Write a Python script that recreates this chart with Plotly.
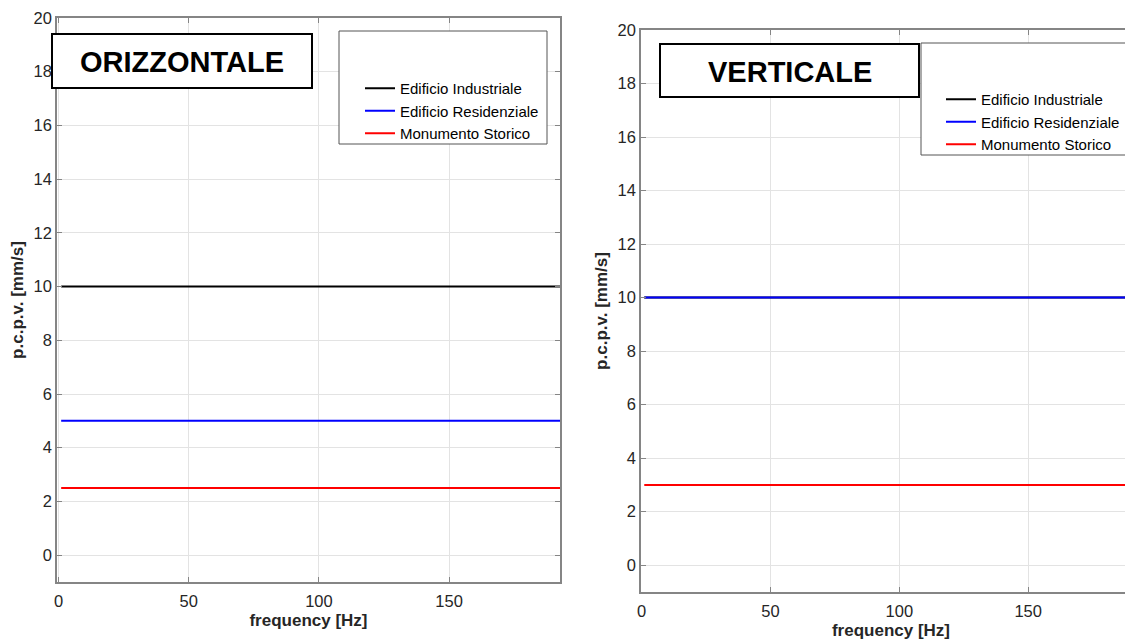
import plotly.graph_objects as go

W, H = 1133, 639
OFF = 8  # default page body margin

freq = [1, 200]
series_names = ["Edificio Industriale", "Edificio Residenziale", "Monumento Storico"]
series_colors = ["#000000", "#0000ff", "#ff0000"]
orizzontale_vals = [10, 5, 2.5]
verticale_vals = [10, 10, 3]
x_ticks = [0, 50, 100, 150]
y_ticks = [0, 2, 4, 6, 8, 10, 12, 14, 16, 18, 20]

def px(x):
    return (x - OFF) / W

def py(y):
    return 1 - (y - OFF) / H

fig = go.Figure()

for name, color, v in zip(series_names, series_colors, orizzontale_vals):
    fig.add_trace(go.Scatter(x=freq, y=[v, v], mode="lines", name=name,
                             line=dict(color=color, width=2),
                             xaxis="x", yaxis="y", legend="legend"))
for name, color, v in zip(series_names, series_colors, verticale_vals):
    fig.add_trace(go.Scatter(x=freq, y=[v, v], mode="lines", name=name,
                             line=dict(color=color, width=2),
                             xaxis="x2", yaxis="y2", legend="legend2"))

axis_common = dict(
    showgrid=True, gridcolor="#e3e3e3", gridwidth=1,
    showline=True, linecolor="#858585", linewidth=1.5, mirror="ticks",
    ticks="inside", ticklen=5, tickcolor="#858585",
    tickfont=dict(family="Arial", size=16.5, color="#262626"),
    zeroline=False, automargin=False,
)
title_font = dict(family="Arial", size=17, color="#262626")

fig.update_layout(
    width=W, height=H,
    margin=dict(l=0, r=0, t=0, b=0),
    paper_bgcolor="white", plot_bgcolor="white",
    xaxis=dict(domain=[px(57), px(560)], range=[-0.6, 192.6], tickvals=x_ticks,
               anchor="y", ticklabelstandoff=3,
               title=dict(text="<b>frequency [Hz]</b>", font=title_font, standoff=6),
               **axis_common),
    yaxis=dict(domain=[py(582), py(18)], range=[-1, 20], tickvals=y_ticks,
               anchor="x",
               title=dict(text="<b>p.c.p.v. [mm/s]</b>", font=title_font, standoff=6),
               **axis_common),
    xaxis2=dict(domain=[px(641), 1.0], range=[-0.27, 193.8], tickvals=x_ticks,
                anchor="y2", ticklabelstandoff=3,
                title=dict(text="<b>frequency [Hz]</b>", font=title_font, standoff=6),
                **axis_common),
    yaxis2=dict(domain=[py(592), py(30)], range=[-1, 20], tickvals=y_ticks,
                anchor="x2",
                title=dict(text="<b>p.c.p.v. [mm/s]</b>", font=title_font, standoff=6),
                **axis_common),
    legend=dict(x=px(360), y=py(72), xanchor="left", yanchor="top",
                bgcolor="rgba(0,0,0,0)", borderwidth=0,
                font=dict(family="Arial", size=15, color="#000000"),
                tracegroupgap=0, itemclick=False),
    legend2=dict(x=px(941), y=py(83), xanchor="left", yanchor="top",
                 bgcolor="rgba(0,0,0,0)", borderwidth=0,
                 font=dict(family="Arial", size=15, color="#000000"),
                 tracegroupgap=0, itemclick=False),
    showlegend=True,
)

# legend boxes
fig.add_shape(type="rect", xref="paper", yref="paper",
              x0=px(339), x1=px(547), y0=py(144), y1=py(31),
              line=dict(color="#555555", width=1), fillcolor="white", layer="above")
fig.add_shape(type="rect", xref="paper", yref="paper",
              x0=px(921), x1=px(1128), y0=py(155), y1=py(43),
              line=dict(color="#555555", width=1), fillcolor="white", layer="above")

# title boxes
fig.add_shape(type="rect", xref="paper", yref="paper",
              x0=px(52), x1=px(312), y0=py(88), y1=py(34),
              line=dict(color="black", width=2), fillcolor="white", layer="above")
fig.add_shape(type="rect", xref="paper", yref="paper",
              x0=px(660), x1=px(919), y0=py(97), y1=py(44),
              line=dict(color="black", width=2), fillcolor="white", layer="above")

fig.add_annotation(text="<b>ORIZZONTALE</b>", xref="paper", yref="paper",
                   x=px(182), y=py(62), xanchor="center", yanchor="middle",
                   showarrow=False, font=dict(family="Arial", size=29, color="black"))
fig.add_annotation(text="<b>VERTICALE</b>", xref="paper", yref="paper",
                   x=px(790), y=py(72), xanchor="center", yanchor="middle",
                   showarrow=False, font=dict(family="Arial", size=29, color="black"))

fig.write_html("out.html")
